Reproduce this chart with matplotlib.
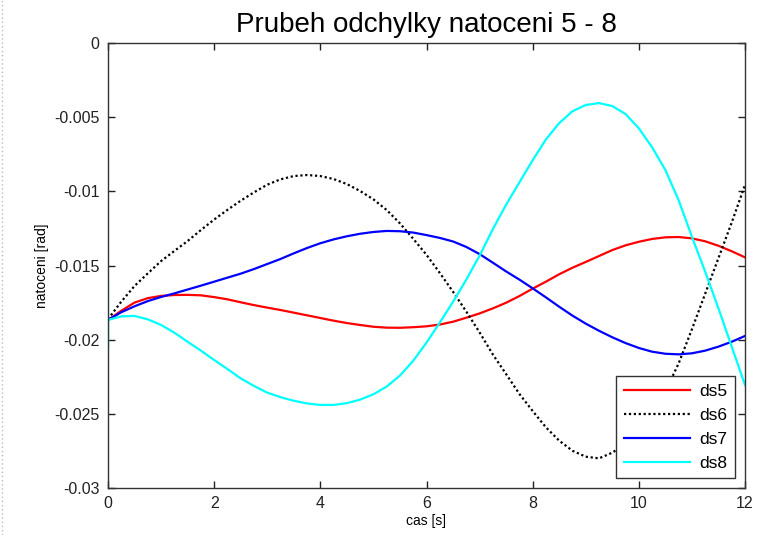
import numpy as np
import matplotlib
matplotlib.use("Agg")
import matplotlib.pyplot as plt
from matplotlib.lines import Line2D

plt.rcParams['font.family'] = ['Liberation Sans', 'DejaVu Sans']

# cas [s]
t = [0, 0.25, 0.5, 0.75, 1, 1.25, 1.5, 1.75, 2, 2.25, 2.5, 2.75, 3,
     3.25, 3.5, 3.75, 4, 4.25, 4.5, 4.75, 5, 5.25, 5.5, 5.75, 6,
     6.25, 6.5, 6.75, 7, 7.25, 7.5, 7.75, 8, 8.25, 8.5, 8.75, 9,
     9.25, 9.5, 9.75, 10, 10.25, 10.5, 10.75, 11, 11.25, 11.5, 11.75, 12]

ds5 = [-0.01868, -0.01805, -0.01750, -0.01720, -0.01705, -0.01699, -0.01698,
       -0.01701, -0.01713, -0.01728, -0.01748, -0.01767, -0.01784, -0.01800,
       -0.01818, -0.01836, -0.01854, -0.01872, -0.01888, -0.01901, -0.01913,
       -0.01919, -0.01920, -0.01916, -0.01910, -0.01898, -0.01879, -0.01852,
       -0.01823, -0.01789, -0.01751, -0.01706, -0.01656, -0.01609, -0.01559,
       -0.01515, -0.01476, -0.01436, -0.01396, -0.01364, -0.01340, -0.01321,
       -0.01310, -0.01308, -0.01317, -0.01337, -0.01367, -0.01404, -0.01445]

ds6 = [-0.01862, -0.01744, -0.01638, -0.01553, -0.01470, -0.01402, -0.01335,
       -0.01261, -0.01190, -0.01125, -0.01063, -0.01007, -0.00955, -0.00919,
       -0.00897, -0.00890, -0.00897, -0.00917, -0.00951, -0.00998, -0.01054,
       -0.01126, -0.01216, -0.01320, -0.01428, -0.01550, -0.01677, -0.01811,
       -0.01951, -0.02100, -0.02232, -0.02366, -0.02481, -0.02591, -0.02681,
       -0.02749, -0.02789, -0.02800, -0.02762, -0.02700, -0.02610, -0.02500,
       -0.02350, -0.02160, -0.01930, -0.01690, -0.01450, -0.01210, -0.00957]

ds7 = [-0.01867, -0.01815, -0.01775, -0.01740, -0.01712, -0.01688, -0.01662,
       -0.01636, -0.01609, -0.01582, -0.01555, -0.01524, -0.01490, -0.01456,
       -0.01418, -0.01382, -0.01350, -0.01324, -0.01303, -0.01286, -0.01274,
       -0.01267, -0.01269, -0.01278, -0.01295, -0.01314, -0.01338, -0.01375,
       -0.01423, -0.01481, -0.01540, -0.01595, -0.01654, -0.01715, -0.01778,
       -0.01838, -0.01892, -0.01940, -0.01984, -0.02023, -0.02056, -0.02081,
       -0.02095, -0.02099, -0.02092, -0.02074, -0.02047, -0.02014, -0.01975]

# ds8 ma na zacatku skok (t = 0)
t8 = [0, 0] + t
ds8 = [-0.0159, -0.0207,
       -0.01867, -0.01843, -0.01840, -0.01863, -0.01901, -0.01953, -0.02014,
       -0.02074, -0.02137, -0.02198, -0.02261, -0.02312, -0.02357, -0.02388,
       -0.02412, -0.02430, -0.02440, -0.02440, -0.02428, -0.02404, -0.02368,
       -0.02316, -0.02242, -0.02142, -0.02020, -0.01885, -0.01745, -0.01595,
       -0.01434, -0.01255, -0.01090, -0.00940, -0.00790, -0.00650, -0.00540,
       -0.00460, -0.00418, -0.00405, -0.00425, -0.00479, -0.00575, -0.00703,
       -0.00856, -0.01060, -0.01306, -0.01542, -0.01789, -0.02047, -0.02306]

fig = plt.figure(figsize=(7.6, 5.35), dpi=100)
ax = fig.add_axes([108 / 760, 1 - 488 / 535, 637 / 760, 445 / 535])

ax.plot(t, ds5, color='red', lw=1.6, label='ds5')
ax.plot(t, ds6, color='black', lw=1.6, ls=(0, (1, 1.2)), label='ds6')
ax.plot(t, ds7, color='blue', lw=1.6, label='ds7')
ax.plot(t8, ds8, color='cyan', lw=1.6, label='ds8')

ax.set_xlim(0, 12)
ax.set_ylim(-0.03, 0)
ax.set_xticks([0, 2, 4, 6, 8, 10, 12])
ax.set_yticks([0, -0.005, -0.01, -0.015, -0.02, -0.025, -0.03])
ax.set_yticklabels(['0', '-0.005', '-0.01', '-0.015', '-0.02', '-0.025', '-0.03'])
ax.tick_params(direction='in', top=True, right=True, length=5, width=1,
               labelsize=11.5, colors='#222222', pad=6)
for s in ax.spines.values():
    s.set_color('#333333')
    s.set_linewidth(1)

ax.set_title('Prubeh odchylky natoceni 5 - 8', fontsize=20, pad=8)
ax.set_xlabel('cas [s]', fontsize=10, labelpad=2)
ax.set_ylabel('natoceni [rad]', fontsize=10, labelpad=4)

leg = ax.legend(loc='lower right', fontsize=12.5, fancybox=False, framealpha=1,
                edgecolor='#333333', handlelength=3.8, borderaxespad=0.55,
                labelspacing=0.5, borderpad=0.45, handletextpad=0.55)
leg.get_frame().set_linewidth(1)

# tečkovaný okraj vlevo (jako na snimku)
fig.add_artist(Line2D([2 / 760, 2 / 760], [0, 1], color='#bbbbbb', lw=1,
                      ls=(0, (1, 2))))

fig.savefig('out.png', dpi=100)
